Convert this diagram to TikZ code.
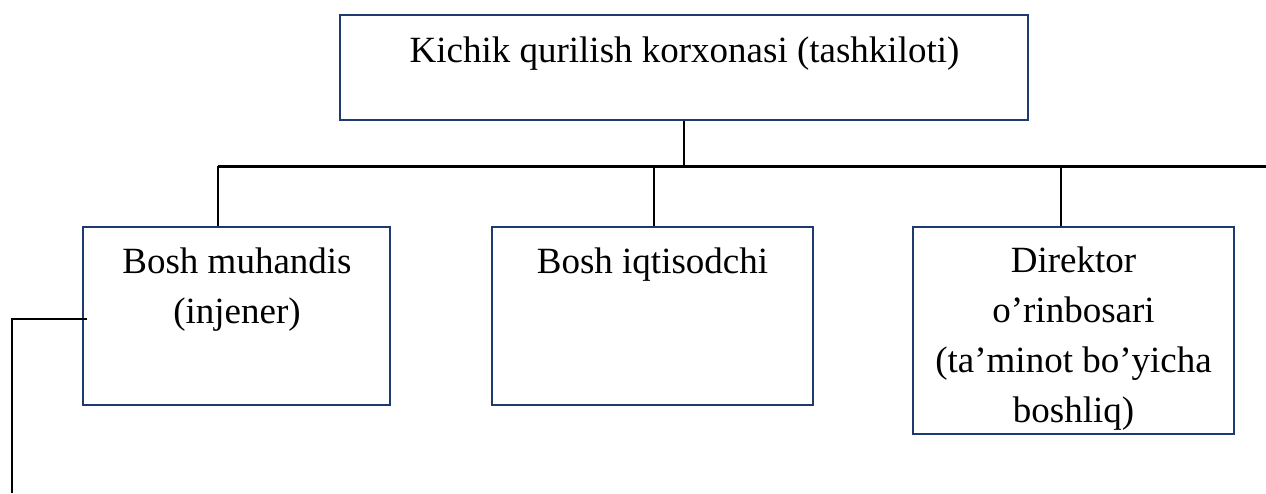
\documentclass[tikz,border=0pt]{standalone}
\usepackage{fontspec}
\setmainfont{Liberation Serif}
\definecolor{boxblue}{HTML}{1F3A6E}
\begin{document}
\begin{tikzpicture}[x=1pt,y=-1pt,
  unitbox/.style={draw=boxblue,line width=2pt,rectangle,inner sep=0pt},
  lbl/.style={anchor=north,align=center,inner sep=0pt,font=\fontsize{37}{50}\selectfont},
  conn/.style={draw=black,line width=2pt},
  busline/.style={draw=black,line width=3pt}]
\useasboundingbox (0,0) rectangle (1266,493);
% boxes
\node[unitbox,minimum width=688pt,minimum height=105pt] (top) at (684,67.5) {};
\node[unitbox,minimum width=307pt,minimum height=178pt] (bm) at (236.5,316) {};
\node[unitbox,minimum width=321pt,minimum height=178pt] (bi) at (652.5,316) {};
\node[unitbox,minimum width=321pt,minimum height=207pt] (dr) at (1073.5,330.5) {};
% labels
\node[lbl] (ttop) at (684.5,27) {\strut Kichik qurilish korxonasi (tashkiloti)};
\node[lbl] (tbm) at (237,238) {\strut Bosh muhandis\\(injener)};
\node[lbl] (tbi) at (652.5,238) {\strut Bosh iqtisodchi};
\node[lbl] (tdr) at (1073.5,237) {\strut Direktor\\o’rinbosari\\(ta’minot bo’yicha\\boshliq)};
% bus
\coordinate (bl) at (218,166);
\coordinate (br) at (1266,166);
\coordinate (b2) at (654,166);
\coordinate (b3) at (1061,166);
\path[busline] (bl) -- (br);
\path[conn] (top.south) -- (top.south |- bl);
\path[conn] (bl) -- (bl |- bm.north);
\path[conn] (b2) -- (b2 |- bi.north);
\path[conn] (b3) -- (b3 |- dr.north);
% left connector
\coordinate (lc) at (12,319);
\coordinate (lend) at (12,493);
\path[conn] ([xshift=5pt]lc -| bm.west) -- (lc) -- (lend);
\end{tikzpicture}
\end{document}
